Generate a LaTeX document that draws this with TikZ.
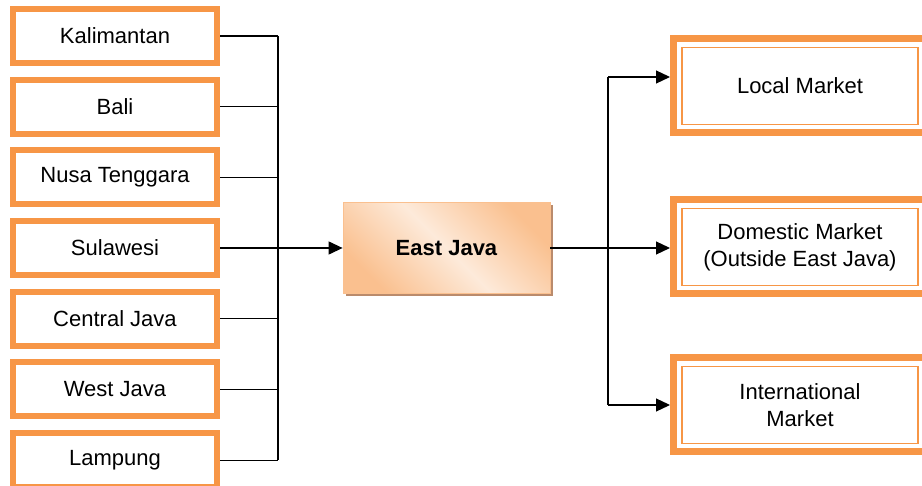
\documentclass[tikz,border=0pt]{standalone}
\usepackage{fontspec}
\setmainfont{Liberation Sans}
\usetikzlibrary{arrows.meta,shadows}
\definecolor{boxorange}{HTML}{F79646}
\definecolor{peachdark}{HTML}{FAC08F}
\definecolor{peachlight}{HTML}{FDEADA}
\definecolor{shadowbrown}{HTML}{9C5A2E}
\tikzset{
  src/.style={draw=boxorange, line width=6pt, fill=white,
    minimum width=204pt, minimum height=54pt, inner sep=0pt,
    font=\fontsize{22}{26}\selectfont},
  hub/.style={draw=peachdark, line width=0.8pt,
    top color=peachdark, bottom color=peachdark, middle color=peachlight,
    shading angle=-45, minimum width=207pt, minimum height=91pt,
    drop shadow={shadow xshift=3pt, shadow yshift=-3pt, fill=shadowbrown, opacity=0.7},
    font=\bfseries\fontsize{22}{26}\selectfont},
  mkt/.style={draw=boxorange, line width=7pt, fill=white,
    minimum width=253pt, minimum height=94pt, align=center,
    font=\fontsize{22}{27}\selectfont,
    path picture={\draw[boxorange, line width=1.5pt]
      ([shift={(8.5pt,-8.5pt)}]path picture bounding box.north west) rectangle
      ([shift={(-8.5pt,8.5pt)}]path picture bounding box.south east);}},
  link/.style={line width=1.2pt},
  feed/.style={link, -{Triangle[length=14pt,width=13pt]}}
}
\begin{document}
\begin{tikzpicture}[x=1pt, y=-1pt]
  \useasboundingbox (0,0) rectangle (922,486);
  % origins
  \foreach \name/\txt [count=\i from 0] in {kal/Kalimantan, bali/Bali,
      nusa/Nusa Tenggara, sul/Sulawesi, cjava/Central Java,
      wjava/West Java, lamp/Lampung}
    \node[src] (\name) at (115,{36+70.7*\i}) {\txt};
  \node[hub] (eastjava) at (446.5,248) {East Java};
  % markets
  \node[mkt] (local) at (800,86) {Local Market};
  \node[mkt] (domestic) at (800,247) {Domestic Market\\(Outside East Java)};
  \node[mkt] (intl) at (800,405) {International\\Market};
  \coordinate (busin) at (278,0);
  \coordinate (busout) at (608,0);
  \coordinate (localin) at ([yshift=9pt]local.west);
  % inflow
  \foreach \name in {kal,bali,nusa,sul,cjava,wjava,lamp}
    \draw[link] (\name.east) -- (\name.east -| busin);
  \draw[link] (kal.east -| busin) -- (lamp.east -| busin);
  \draw[feed] (eastjava.west -| busin) -- (eastjava.west);
  % outflow
  \draw[link] (eastjava.east) -- (eastjava.east -| busout);
  \draw[link] (localin -| busout) -- (intl.west -| busout);
  \draw[feed] (localin -| busout) -- (localin);
  \draw[feed] (eastjava.east -| busout) -- (eastjava.east -| domestic.west);
  \draw[feed] (intl.west -| busout) -- (intl.west);
\end{tikzpicture}
\end{document}
